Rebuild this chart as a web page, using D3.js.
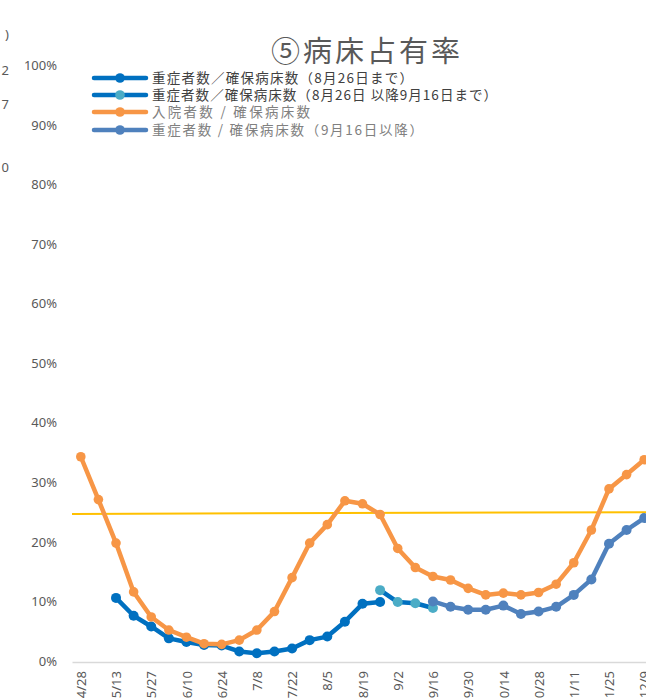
<!DOCTYPE html>
<html>
<head>
<meta charset="utf-8">
<script src="https://cdn.jsdelivr.net/npm/d3@7/dist/d3.min.js"></script>
<style>
  body { margin: 0; background: #fff; }
  svg { display: block; font-family: "Noto Sans", "Noto Sans CJK JP", sans-serif; }
</style>
</head>
<body>
<div id="chart"></div>
<script>
// weekly dates (x categories)
const dates = ['4/28', '5/6', '5/13', '5/20', '5/27', '6/3', '6/10', '6/17', '6/24', '7/1',
  '7/8', '7/15', '7/22', '7/29', '8/5', '8/12', '8/19', '8/26', '9/2', '9/9',
  '9/16', '9/23', '9/30', '10/7', '10/14', '10/21', '10/28', '11/4', '11/11', '11/18',
  '11/25', '12/2', '12/9'];

// 入院者数 / 確保病床数 (%)
const admitted = [34.3, 27.1, 19.8, 11.6, 7.4, 5.2, 4.0, 2.9, 2.8, 3.5,
  5.2, 8.3, 14.0, 19.8, 22.9, 26.9, 26.4, 24.6, 18.9, 15.7,
  14.2, 13.6, 12.2, 11.1, 11.4, 11.1, 11.5, 12.9, 16.5, 22.0,
  28.9, 31.3, 33.8];

// 重症者数／確保病床数 (8月26日まで), starts at 5/13
const severeA = [10.6, 7.6, 5.8, 3.8, 3.2, 2.7, 2.6, 1.6, 1.3, 1.6, 2.1, 3.5, 4.1, 6.6, 9.6, 9.9];
const severeAStart = '5/13';

// 重症者数／確保病床数 (8月26日以降9月16日まで)
const severeB = [11.9, 9.9, 9.7, 8.9];
const severeBStart = '8/26';

// 重症者数 / 確保病床数 (9月16日以降)
const severeC = [10.0, 9.1, 8.6, 8.6, 9.3, 7.9, 8.3, 9.1, 11.1, 13.7, 19.7, 22.0, 24.0];
const severeCStart = '9/16';

// 25% reference line (left end, right end)
const refLine = [24.7, 25.0];

const yTicks = [0, 10, 20, 30, 40, 50, 60, 70, 80, 90, 100];

const legendLabels = [
  '重症者数／確保病床数（8月26日まで）',
  '重症者数／確保病床数（8月26日 以降9月16日まで）',
  '入院者数 / 確保病床数',
  '重症者数 / 確保病床数（9月16日以降）'
];

const width = 646, height = 700;

const svg = d3.select('#chart').append('svg')
  .attr('width', width)
  .attr('height', height);

const x = d3.scalePoint()
  .domain(dates)
  .range([72, 653])
  .padding(0.5);

const y = d3.scaleLinear()
  .domain([0, 100])
  .range([661, 65.5]);

// bits of the neighbouring chart cut at the left edge
const edgeBits = [[')', 34], ['12', 70], ['17', 104], ['10', 167]];
svg.selectAll('.edge')
  .data(edgeBits)
  .enter()
  .append('text')
  .attr('class', 'edge')
  .attr('x', 9)
  .attr('y', (d) => d[1])
  .attr('dy', '0.35em')
  .attr('text-anchor', 'end')
  .attr('fill', '#595959')
  .style('font-size', '13px')
  .text((d) => d[0]);

// y axis labels
const yAxis = svg.append('g')
  .attr('transform', 'translate(57,0)')
  .call(d3.axisLeft(y).tickValues(yTicks).tickFormat((d) => d + '%').tickSize(0).tickPadding(0));
yAxis.select('.domain').remove();
yAxis.selectAll('text')
  .attr('fill', '#595959')
  .style('font-size', '13px')
  .style('font-family', '"Noto Sans", sans-serif');

// x axis
const xAxis = svg.append('g')
  .attr('transform', 'translate(0,662)')
  .call(d3.axisBottom(x)
    .tickValues(dates.filter((d, i) => i % 2 === 0))
    .tickSize(0)
    .tickSizeOuter(0));
xAxis.select('.domain')
  .attr('stroke', '#d9d9d9')
  .attr('stroke-width', 1.5);
xAxis.selectAll('text')
  .attr('transform', 'rotate(-90)')
  .attr('text-anchor', 'end')
  .attr('x', -9)
  .attr('y', 0)
  .attr('dy', '0.36em')
  .attr('fill', '#595959')
  .style('font-size', '13px')
  .style('font-family', '"Noto Sans", sans-serif');

// reference line
svg.append('line')
  .attr('x1', x.range()[0])
  .attr('x2', width)
  .attr('y1', y(refLine[0]))
  .attr('y2', y(refLine[1]))
  .attr('stroke', '#ffc000')
  .attr('stroke-width', 2);

function toPoints(values, start) {
  let i0 = dates.indexOf(start);
  return values.map((v, i) => ({date: dates[i0 + i], value: v}));
}

const line = d3.line()
  .x((d) => x(d.date))
  .y((d) => y(d.value));

function drawSeries(points, lineColor, markerColor, r) {
  let g = svg.append('g');
  g.append('path')
    .datum(points)
    .attr('d', line)
    .attr('fill', 'none')
    .attr('stroke', lineColor)
    .attr('stroke-width', 4.5)
    .attr('stroke-linejoin', 'round');
  g.selectAll('circle')
    .data(points)
    .enter()
    .append('circle')
    .attr('cx', (d) => x(d.date))
    .attr('cy', (d) => y(d.value))
    .attr('r', r)
    .attr('fill', markerColor);
}

const colors = {
  dark: '#0070c0',
  light: '#4bacc6',
  orange: '#f79646',
  blue: '#4f81bd'
};

drawSeries(toPoints(severeA, severeAStart), colors.dark, colors.dark, 5);
drawSeries(toPoints(severeB, severeBStart), colors.dark, colors.light, 5);
drawSeries(toPoints(admitted, dates[0]), colors.orange, colors.orange, 4.8);
drawSeries(toPoints(severeC, severeCStart), colors.blue, colors.blue, 5);

// title
svg.append('text')
  .attr('x', 367)
  .attr('y', 62)
  .attr('text-anchor', 'middle')
  .attr('fill', '#595959')
  .style('font-family', '"Noto Sans CJK JP", sans-serif')
  .style('font-size', '29px')
  .style('letter-spacing', '3px')
  .text('⑤病床占有率');

// legend
const legendRows = [
  {line: colors.dark, marker: colors.dark, text: '#404040', y: 78, w: 261},
  {line: colors.dark, marker: colors.light, text: '#404040', y: 95, w: 345},
  {line: colors.orange, marker: colors.orange, text: '#808080', y: 112, w: 158},
  {line: colors.blue, marker: colors.blue, text: '#808080', y: 130, w: 271}
];

const legend = svg.selectAll('.legend')
  .data(legendRows)
  .enter()
  .append('g')
  .attr('class', 'legend')
  .attr('transform', (d) => 'translate(0,' + d.y + ')');

legend.append('line')
  .attr('x1', 94)
  .attr('x2', 146)
  .attr('stroke', (d) => d.line)
  .attr('stroke-width', 4.5)
  .attr('stroke-linecap', 'round');

legend.append('circle')
  .attr('cx', 120)
  .attr('r', 4.8)
  .attr('fill', (d) => d.marker);

legend.append('text')
  .attr('x', 152)
  .attr('dy', '0.36em')
  .attr('fill', (d) => d.text)
  .attr('textLength', (d) => d.w)
  .attr('lengthAdjust', 'spacing')
  .style('font-family', '"Noto Sans CJK JP", sans-serif')
  .style('font-size', '13.5px')
  .text((d, i) => legendLabels[i]);
</script>
</body>
</html>
